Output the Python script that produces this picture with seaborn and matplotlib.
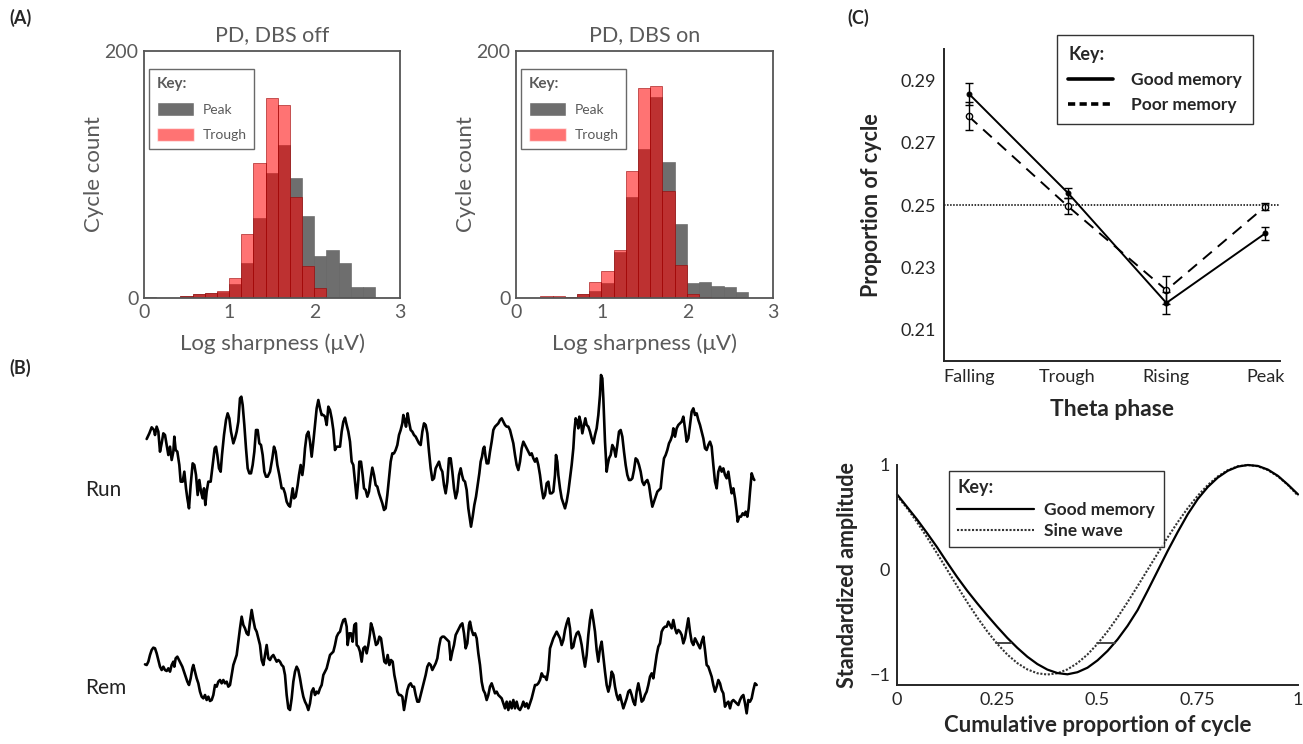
import numpy as np
import pandas as pd
import matplotlib
matplotlib.use("Agg")
import matplotlib.pyplot as plt
from matplotlib.lines import Line2D
from matplotlib.patches import Patch
import seaborn as sns

# ---- Panel A: sharpness histograms (bin counts) ----
bin_edges = [round(k * 0.1425, 4) for k in range(20)]
off_peak = [1, 0, 0, 2, 3, 4, 5, 11, 28, 65, 101, 124, 97, 66, 34, 39, 28, 9, 9]
off_trough = [0, 0, 0, 2, 3, 4, 6, 16, 52, 109, 162, 156, 82, 26, 8, 0, 0, 0, 0]
on_peak = [0, 0, 0, 0, 1, 3, 6, 12, 37, 82, 121, 163, 110, 60, 12, 13, 10, 9, 5]
on_trough = [0, 0, 2, 2, 1, 3, 13, 22, 39, 103, 170, 172, 87, 27, 3, 1, 0, 0, 0]

run_trace = [
    (50, 222), (58, 205), (65, 187), (72, 195), (75, 210), (80, 185), (85, 200), (90, 260), (95, 235), (100, 205),
    (105, 210), (110, 240), (115, 270), (120, 245), (125, 285), (130, 260), (133, 215), (137, 255), (142, 260), (148, 300),
    (152, 350), (158, 350), (163, 320), (168, 370), (172, 400), (177, 430), (182, 360), (188, 295), (193, 300), (198, 330),
    (203, 390), (208, 345), (213, 380), (218, 400), (222, 370), (226, 420), (230, 380), (235, 350), (242, 350), (248, 300),
    (254, 250), (258, 245), (262, 270), (267, 310), (272, 320), (276, 270), (282, 210), (288, 165), (293, 145), (298, 160),
    (303, 200), (310, 235), (315, 220), (320, 200), (325, 170), (330, 100), (334, 95), (338, 120), (343, 180), (348, 250),
    (353, 310), (358, 325), (363, 325), (368, 300), (373, 260), (378, 195), (383, 195), (388, 235), (393, 240), (398, 270),
    (403, 320), (408, 335), (413, 335), (420, 320), (427, 280), (432, 245), (437, 260), (442, 300), (448, 330), (455, 370),
    (460, 370), (465, 385), (470, 410), (475, 420), (480, 425), (485, 390), (488, 370), (492, 400), (497, 395), (503, 360),
    (507, 330), (512, 300), (517, 330), (521, 300), (525, 250), (530, 210), (535, 200), (540, 230), (545, 275), (550, 230),
    (555, 180), (560, 130), (565, 105), (570, 130), (575, 150), (580, 150), (585, 155), (590, 180), (595, 125), (600, 135),
    (605, 160), (610, 195), (615, 255), (620, 245),
    (630, 245), (635, 200), (640, 170), (645, 158), (650, 180), (655, 200), (660, 230), (665, 290), (670, 300), (675, 350),
    (680, 400), (685, 345), (688, 290), (693, 290), (698, 330), (702, 370), (707, 375), (712, 395), (717, 380), (722, 340),
    (727, 308), (732, 330), (737, 360), (742, 365), (747, 385), (752, 400), (757, 415), (762, 435), (767, 430), (772, 390),
    (777, 340), (782, 290), (787, 265), (792, 265), (797, 255), (802, 240), (807, 210), (812, 195), (817, 175), (820, 150),
    (824, 165), (828, 185), (833, 145), (837, 170), (842, 195), (847, 200), (852, 210), (857, 215), (862, 225), (867, 235),
    (872, 240), (877, 200), (882, 175), (887, 180), (892, 205), (897, 260), (902, 310), (907, 345), (912, 340), (917, 310),
    (922, 300), (927, 290), (932, 310), (937, 320), (942, 360), (947, 385), (952, 350), (957, 280), (962, 280), (967, 320),
    (972, 370), (977, 400), (982, 380), (987, 330), (992, 310), (996, 330), (1000, 345), (1005, 350), (1010, 375), (1015, 430),
    (1020, 465), (1023, 485), (1028, 455), (1033, 420), (1038, 395), (1043, 360), (1048, 325), (1052, 290), (1056, 275), (1060, 250),
    (1063, 245), (1066, 270), (1070, 295), (1075, 295), (1080, 260), (1085, 230), (1090, 195), (1095, 185), (1100, 180), (1105, 175),
    (1110, 165), (1115, 160), (1120, 170), (1125, 180), (1130, 185), (1135, 185), (1140, 195), (1145, 215), (1150, 235), (1155, 270),
    (1160, 300), (1165, 315), (1170, 290), (1175, 250), (1180, 230), (1185, 240), (1190, 250), (1195, 260), (1200, 270), (1205, 265),
    (1210, 280), (1215, 290), (1220, 280), (1225, 300), (1230, 330), (1235, 370), (1240, 400), (1245, 390), (1250, 355), (1255, 350),
    (1260, 385), (1265, 385), (1270, 380), (1275, 330), (1278, 270), (1282, 290), (1285, 330), (1290, 370), (1295, 400), (1300, 415),
    (1305, 430), (1310, 410), (1315, 380), (1320, 340), (1325, 300), (1330, 250), (1333, 200), (1337, 160), (1342, 170), (1345, 190),
    (1348, 155), (1353, 175), (1357, 205), (1362, 180), (1366, 160), (1370, 180), (1375, 185), (1380, 200), (1385, 220), (1390, 235),
    (1395, 210), (1400, 190), (1405, 150), (1410, 90), (1413, 30), (1417, 40), (1420, 100), (1425, 230), (1430, 320), (1433, 300),
    (1437, 280), (1442, 270), (1447, 240), (1452, 250), (1457, 275), (1462, 240), (1467, 200), (1472, 195), (1477, 215), (1482, 260),
    (1487, 300), (1492, 330), (1497, 345), (1502, 345), (1507, 340), (1512, 315), (1517, 280), (1522, 285), (1527, 300), (1532, 320),
    (1537, 350), (1542, 360), (1547, 350), (1552, 345), (1557, 360), (1562, 395), (1567, 425), (1572, 410), (1577, 395), (1582, 380),
    (1587, 375), (1592, 370), (1597, 320), (1602, 280), (1607, 270), (1612, 255), (1617, 235), (1622, 225), (1627, 210), (1630, 190),
    (1635, 215), (1640, 190), (1645, 180), (1650, 175), (1655, 170), (1660, 155), (1665, 190), (1670, 230), (1675, 220), (1680, 180),
    (1685, 140), (1690, 130), (1695, 150), (1700, 145), (1705, 165), (1710, 180), (1715, 200), (1720, 220), (1725, 250), (1730, 255),
    (1735, 240), (1740, 230), (1745, 245), (1750, 300), (1755, 350), (1760, 370), (1765, 320), (1770, 305), (1775, 320), (1780, 310),
    (1785, 330), (1790, 340), (1795, 320), (1800, 355), (1805, 385), (1810, 370), (1815, 400), (1820, 440), (1823, 470), (1828, 455),
    (1833, 455), (1838, 445), (1843, 450), (1847, 440), (1852, 455), (1856, 430), (1860, 380), (1865, 325), (1870, 340), (1873, 345),
]

rem_trace = [
    (45, 208), (50, 210), (55, 200), (60, 180), (65, 165), (70, 158), (75, 160), (80, 175), (85, 195), (90, 215),
    (95, 225), (100, 215), (105, 225), (110, 228), (115, 220), (120, 230), (125, 210), (130, 200), (133, 215), (137, 190),
    (142, 185), (147, 195), (152, 205), (157, 215), (162, 230), (167, 245), (172, 260), (177, 270), (182, 250), (187, 220),
    (190, 210), (195, 230), (200, 250), (205, 265), (210, 290), (215, 305), (220, 310), (225, 300), (230, 315), (235, 305),
    (240, 318), (245, 315), (250, 300), (255, 270), (260, 275), (265, 260), (270, 255), (275, 265), (280, 255), (285, 265),
    (290, 260), (295, 275), (300, 270), (305, 240), (310, 210), (315, 195), (320, 180), (325, 140), (330, 100), (335, 65),
    (340, 90), (345, 100), (350, 115), (355, 120), (360, 80), (365, 45), (370, 75), (375, 100), (380, 110), (385, 130),
    (390, 150), (395, 195), (400, 210), (405, 180), (410, 150), (415, 190), (420, 195), (425, 185), (430, 180), (435, 190),
    (440, 200), (445, 195), (450, 200), (455, 210), (460, 215), (465, 240), (470, 300), (475, 340), (480, 345), (485, 310),
    (490, 260), (495, 230), (500, 215), (505, 225), (510, 250), (515, 280), (520, 305), (525, 320), (530, 330), (535, 345),
    (540, 325), (545, 290), (550, 280), (555, 300), (560, 290), (565, 295), (570, 280), (575, 270), (580, 240), (585, 230),
    (590, 220), (595, 200), (600, 180), (605, 175), (610, 170), (615, 150), (620, 125), (625, 115),
    (630, 110), (635, 90), (640, 75), (645, 72), (650, 95), (653, 150), (658, 115), (663, 115), (668, 140), (673, 90),
    (678, 85), (680, 150), (685, 155), (690, 170), (695, 200), (700, 160), (705, 155), (710, 175), (715, 150), (720, 115),
    (723, 85), (728, 100), (733, 125), (738, 150), (743, 145), (748, 125), (753, 130), (758, 165), (763, 200), (768, 205),
    (773, 180), (778, 210), (783, 195), (788, 200), (793, 240), (798, 265), (802, 290), (807, 300), (812, 300), (817, 305),
    (822, 345), (827, 315), (832, 285), (837, 270), (842, 265), (847, 275), (852, 275), (857, 300), (862, 320), (867, 320),
    (872, 300), (877, 280), (882, 260), (887, 240), (892, 215), (897, 205), (902, 210), (907, 225), (912, 215), (917, 205),
    (922, 190), (927, 155), (932, 130), (937, 125), (942, 125), (947, 130), (952, 135), (957, 140), (962, 195), (967, 170),
    (972, 150), (977, 120), (982, 110), (987, 100), (992, 90), (997, 85), (1002, 115), (1007, 160), (1012, 145), (1017, 90),
    (1020, 80), (1025, 105), (1030, 120), (1035, 115), (1040, 130), (1045, 175), (1050, 210), (1055, 260), (1060, 285), (1065, 295),
    (1070, 315), (1075, 300), (1080, 275), (1085, 265), (1090, 280), (1095, 295), (1100, 290), (1105, 300), (1110, 305), (1115, 310),
    (1120, 325), (1125, 340), (1130, 320), (1135, 345), (1140, 320), (1145, 340), (1150, 315), (1155, 340), (1160, 320), (1165, 340),
    (1170, 345), (1175, 335), (1180, 320), (1185, 335), (1190, 325), (1195, 340), (1200, 325), (1205, 310), (1210, 290), (1215, 270),
    (1220, 270), (1225, 265), (1230, 255), (1235, 235), (1240, 245), (1245, 245), (1250, 255), (1255, 225),
    (1260, 160), (1265, 145), (1270, 130), (1275, 120), (1280, 110), (1285, 120), (1290, 130), (1295, 150), (1300, 135), (1305, 105),
    (1310, 85), (1315, 70), (1320, 100), (1325, 160), (1330, 155), (1335, 130), (1340, 115), (1345, 110), (1350, 125), (1355, 150),
    (1360, 185), (1365, 215), (1370, 180), (1375, 120), (1380, 75), (1385, 45), (1390, 75), (1395, 110), (1400, 165), (1405, 200),
    (1410, 160), (1415, 140), (1420, 185), (1425, 230), (1430, 270), (1435, 290), (1440, 270), (1445, 230), (1450, 240), (1455, 275),
    (1460, 300), (1465, 315), (1470, 300), (1475, 320), (1480, 340), (1485, 325), (1490, 310), (1495, 290), (1500, 285), (1505, 300),
    (1510, 320), (1515, 330), (1520, 290), (1525, 265), (1530, 290), (1535, 320), (1540, 315), (1545, 300), (1550, 290), (1555, 270),
    (1560, 245), (1565, 235), (1570, 250), (1575, 215), (1580, 180), (1585, 155), (1590, 145), (1595, 110), (1600, 100), (1605, 95),
    (1610, 95), (1615, 80), (1620, 90), (1625, 100), (1630, 75), (1635, 100), (1640, 115), (1645, 105), (1650, 110), (1655, 120),
    (1660, 145), (1665, 130), (1670, 100), (1675, 70), (1680, 110), (1685, 140), (1690, 150), (1695, 130), (1700, 140), (1705, 150),
    (1710, 160), (1715, 140), (1720, 125), (1725, 165), (1730, 210), (1735, 215), (1740, 230), (1745, 245), (1750, 270), (1755, 290),
    (1760, 275), (1765, 255), (1770, 265), (1775, 285), (1780, 295), (1785, 335), (1790, 325), (1795, 320), (1800, 340), (1805, 320),
    (1810, 315), (1815, 320), (1820, 325), (1825, 330), (1830, 315), (1835, 305), (1840, 300), (1845, 325), (1850, 355), (1855, 315),
    (1860, 320), (1865, 310), (1870, 285), (1875, 265), (1880, 270),
]

# ---- Panel C (top): proportion of cycle per theta phase ----
phases = ["Falling", "Trough", "Rising", "Peak"]
good_prop = [0.2857, 0.2540, 0.2186, 0.2409]
good_err = [0.0035, 0.0016, 0.0035, 0.0020]
poor_prop = [0.2784, 0.2497, 0.2227, 0.2495]
poor_err = [0.0045, 0.0025, 0.0045, 0.0012]

# ---- Panel C (bottom): average cycle waveform ----
cycle_x = [i / 40 for i in range(41)]
good_wave = [0.72, 0.60, 0.48, 0.35, 0.215, 0.07, -0.07, -0.20, -0.32, -0.435,
             -0.545, -0.65, -0.745, -0.83, -0.90, -0.953, -0.986, -0.998, -0.978, -0.935,
             -0.865, -0.775, -0.665, -0.535, -0.385, -0.20, -0.01, 0.18, 0.36, 0.53,
             0.675, 0.79, 0.88, 0.945, 0.985, 1.0, 0.991, 0.956, 0.896, 0.812, 0.72]
sine_wave = [0.707, 0.588, 0.454, 0.309, 0.156, 0.0, -0.156, -0.309, -0.454, -0.588,
             -0.707, -0.809, -0.891, -0.951, -0.988, -1.0, -0.988, -0.951, -0.891, -0.809,
             -0.707, -0.588, -0.454, -0.309, -0.156, 0.0, 0.156, 0.309, 0.454, 0.588,
             0.707, 0.809, 0.891, 0.951, 0.988, 1.0, 0.988, 0.951, 0.891, 0.809, 0.707]
half_level = -0.70
half_fall = [0.248, 0.285]
half_rise = [0.499, 0.543]

W, H = 1303, 744
GREY_TXT = "#5a5a5a"
PEAK_C = "#6e6e6e"
TROUGH_C = "#ff0000"


def px_axes(fig, x0, y0, x1, y1):
    # axes from pixel box (top-left origin)
    return fig.add_axes([x0 / W, 1 - y1 / H, (x1 - x0) / W, (y1 - y0) / H])


def histogram_panel(fig, box, title, peak, trough):
    ax = px_axes(fig, *box)
    centers = [(a + b) / 2 for a, b in zip(bin_edges[:-1], bin_edges[1:])]
    df = pd.DataFrame({"sharp": centers, "peak": peak, "trough": trough})
    sns.histplot(data=df, x="sharp", weights="peak", bins=bin_edges, ax=ax,
                 color=PEAK_C, alpha=1, edgecolor="#5f5f5f", linewidth=0.4)
    sns.histplot(data=df, x="sharp", weights="trough", bins=bin_edges, ax=ax,
                 color=TROUGH_C, alpha=0.55, edgecolor="#990000", linewidth=0.4)
    ax.set_xlim(0, 3)
    ax.set_ylim(0, 200)
    ax.set_xticks([0, 1, 2, 3])
    ax.set_yticks([0, 200])
    ax.tick_params(length=0, labelsize=14, labelcolor=GREY_TXT, pad=4)
    for s in ax.spines.values():
        s.set_visible(True)
        s.set_color("#555555")
        s.set_linewidth(1.3)
    ax.set_title(title, fontsize=15.5, color=GREY_TXT, pad=7)
    ax.set_xlabel("Log sharpness (\u03bcV)", fontsize=16, color=GREY_TXT, labelpad=9)
    ax.set_ylabel("Cycle count", fontsize=16, color=GREY_TXT, labelpad=0)
    handles = [Patch(facecolor=PEAK_C), Patch(facecolor=TROUGH_C, alpha=0.55)]
    leg = ax.legend(handles, ["Peak", "Trough"], title="Key:", loc="upper left",
                    bbox_to_anchor=(0.02, 0.927), borderaxespad=0, fontsize=10,
                    handlelength=2.7, handleheight=1.1, labelcolor=GREY_TXT,
                    frameon=True, fancybox=False, edgecolor="#444444", borderpad=0.55,
                    labelspacing=0.85, handletextpad=0.6, alignment="left",
                    title_fontproperties={"weight": "bold", "size": 11})
    leg.get_title().set_color(GREY_TXT)
    leg.get_frame().set_linewidth(1.0)
    return ax


def trace_panel(fig, box, samples, depth):
    ax = px_axes(fig, *box)
    df = pd.DataFrame(samples, columns=["t", "depth"])
    df["amp"] = -df["depth"]
    sns.lineplot(data=df, x="t", y="amp", ax=ax, color="black", linewidth=1.9,
                 estimator=None, sort=False)
    ax.set_xlim(0, 1890)
    ax.set_ylim(-depth, 0)
    ax.set_axis_off()
    return ax


def phase_panel(fig):
    ax = px_axes(fig, 944, 49, 1280, 361)
    pos = np.arange(len(phases))
    ax.axhline(0.25, color="black", linestyle=(0, (1, 1)), linewidth=1.1)
    sns.lineplot(x=pos, y=good_prop, ax=ax, color="black", linewidth=1.4,
                 marker="o", markersize=3.5, markerfacecolor="black", markeredgecolor="black")
    sns.lineplot(x=pos, y=poor_prop, ax=ax, color="black", linewidth=1.4,
                 linestyle=(0, (6, 4)), marker="o", markersize=4.5,
                 markerfacecolor="white", markeredgecolor="black", markeredgewidth=1)
    ax.errorbar(pos, good_prop, yerr=good_err, fmt="none", ecolor="black",
                elinewidth=1, capsize=3, capthick=1)
    ax.errorbar(pos, poor_prop, yerr=poor_err, fmt="none", ecolor="black",
                elinewidth=1, capsize=3, capthick=1)
    ax.set_xlim(-0.25, 3.15)
    ax.set_ylim(0.20, 0.30)
    ax.set_xticks(pos)
    ax.set_xticklabels(phases)
    ax.set_yticks([0.21, 0.23, 0.25, 0.27, 0.29])
    ax.set_yticklabels(["0.21", "0.23", "0.25", "0.27", "0.29"])
    ax.set_yticks([0.22, 0.24, 0.26, 0.28], minor=True)
    ax.tick_params(axis="both", which="both", direction="in", length=5, width=1.2,
                   labelsize=13, pad=6)
    sns.despine(ax=ax)
    for s in ax.spines.values():
        s.set_linewidth(1.4)
    ax.set_xlabel("Theta phase", fontsize=16.5, fontweight="bold", labelpad=10)
    ax.set_ylabel("Proportion of cycle", fontsize=15.5, fontweight="bold", labelpad=13)
    handles = [Line2D([], [], color="black", lw=2.6),
               Line2D([], [], color="black", lw=2.6, linestyle=(0, (2, 1.2)))]
    leg = ax.legend(handles, ["Good memory", "Poor memory"], title="Key:",
                    loc="upper left", bbox_to_anchor=(0.336, 1.045), borderaxespad=0,
                    prop={"weight": "bold", "size": 12.5}, handlelength=2.6,
                    frameon=True, fancybox=False, edgecolor="black", borderpad=0.65,
                    labelspacing=0.5, handletextpad=1.0, alignment="left",
                    title_fontproperties={"weight": "bold", "size": 13})
    leg.get_frame().set_linewidth(1.0)
    return ax


def waveform_panel(fig):
    ax = px_axes(fig, 897, 465, 1298, 685)
    sns.lineplot(x=cycle_x, y=sine_wave, ax=ax, color="#333333", linewidth=1.5,
                 linestyle=(0, (1, 0.8)), clip_on=False)
    sns.lineplot(x=cycle_x, y=good_wave, ax=ax, color="black", linewidth=1.6,
                 clip_on=False)
    ax.plot(half_fall, [half_level, half_level], color="#444444", linewidth=1.4)
    ax.plot(half_rise, [half_level, half_level], color="#444444", linewidth=1.4)
    ax.set_xlim(0, 1)
    ax.set_ylim(-1.1, 1.0)
    ax.set_xticks([0, 0.25, 0.5, 0.75, 1])
    ax.set_xticklabels(["0", "0.25", "0.5", "0.75", "1"])
    ax.set_yticks([-1, 0, 1])
    ax.set_yticklabels(["\u22121", "0", "1"])
    ax.tick_params(axis="both", direction="in", length=5, width=1.2, labelsize=13, pad=5)
    sns.despine(ax=ax)
    for s in ax.spines.values():
        s.set_linewidth(1.4)
    ax.set_xlabel("Cumulative proportion of cycle", fontsize=16, fontweight="bold", labelpad=5)
    ax.set_ylabel("Standardized amplitude", fontsize=15.5, fontweight="bold", labelpad=8)
    handles = [Line2D([], [], color="black", lw=1.6),
               Line2D([], [], color="#333333", lw=1.5, linestyle=(0, (1, 0.8)))]
    leg = ax.legend(handles, ["Good memory", "Sine wave"], title="Key:",
                    loc="upper left", bbox_to_anchor=(0.129, 0.974), borderaxespad=0,
                    prop={"weight": "bold", "size": 12.5}, handlelength=4.4,
                    frameon=True, fancybox=False, edgecolor="black", borderpad=0.5,
                    labelspacing=0.3, handletextpad=0.6, alignment="left",
                    title_fontproperties={"weight": "bold", "size": 13})
    leg.get_frame().set_linewidth(1.0)
    return ax


def main():
    sns.set_theme(style="white")
    plt.rcParams["font.family"] = ["Lato", "DejaVu Sans"]
    plt.rcParams["axes.unicode_minus"] = False

    fig = plt.figure(figsize=(W / 100, H / 100), dpi=100)

    histogram_panel(fig, (144, 51, 400, 298), "PD, DBS off", off_peak, off_trough)
    histogram_panel(fig, (516, 51, 773, 298), "PD, DBS on", on_peak, on_trough)

    trace_panel(fig, (130, 365, 760, 535), run_trace, 510)
    trace_panel(fig, (130, 595, 760, 725), rem_trace, 390)
    fig.text(85 / W, 1 - 490 / H, "Run", fontsize=15, color="#222222", va="center")
    fig.text(85 / W, 1 - 688 / H, "Rem", fontsize=15, color="#222222", va="center")

    phase_panel(fig)
    waveform_panel(fig)

    for lab, x, y in [("(A)", 9, 18), ("(B)", 9, 368), ("(C)", 847, 18)]:
        fig.text(x / W, 1 - y / H, lab, fontsize=13, fontweight="bold", va="center")

    fig.savefig("out.png", dpi=100)


if __name__ == "__main__":
    main()
